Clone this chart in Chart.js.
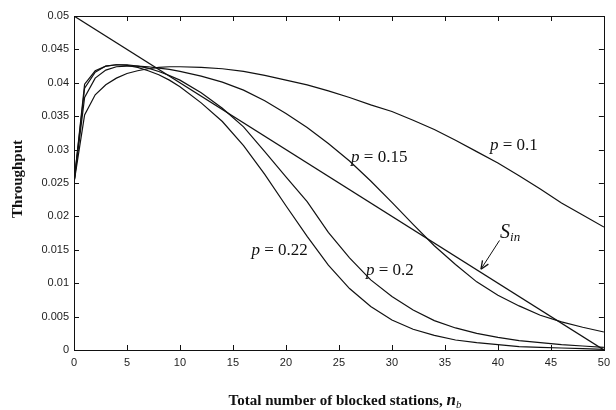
<!DOCTYPE html>
<html>
<head>
<meta charset="utf-8">
<script src="https://cdn.jsdelivr.net/npm/chart.js@4.4.1/dist/chart.umd.min.js"></script>
<style>
  html, body { margin: 0; padding: 0; background: #fff; }
  canvas { display: block; }
</style>
</head>
<body>
<canvas id="chart" width="616" height="410" style="width:616px;height:410px"></canvas>
<script>
// number of blocked stations (x values shared by the p curves)
const nb = [0, 1, 2, 3, 4, 5, 6, 7, 8, 9, 10, 12, 14, 16, 18, 20, 22, 24, 26, 28, 30,
  32, 34, 36, 38, 40, 42, 44, 46, 48, 50];

// throughput for each p
const p010 = [0.025, 0.0352, 0.0382, 0.0397, 0.0407, 0.0414, 0.0418, 0.0421, 0.0423, 0.0424, 0.0424,
  0.0423, 0.0421, 0.0417, 0.0411, 0.0404, 0.0397, 0.0388, 0.0378, 0.0367, 0.0357,
  0.0344, 0.0330, 0.0314, 0.0297, 0.0280, 0.0261, 0.0241, 0.0220, 0.0202, 0.0184];
const p015 = [0.025, 0.0378, 0.0407, 0.0419, 0.0424, 0.0425, 0.0425, 0.0424, 0.0422, 0.0420, 0.0417,
  0.0410, 0.0401, 0.0389, 0.0373, 0.0354, 0.0333, 0.0309, 0.0283, 0.0253, 0.0221,
  0.0188, 0.0156, 0.0128, 0.0102, 0.0082, 0.0066, 0.0052, 0.0042, 0.0034, 0.0027];
const p020 = [0.025, 0.0392, 0.0416, 0.0425, 0.0427, 0.0427, 0.0425, 0.0422, 0.0417, 0.0411, 0.0404,
  0.0385, 0.0362, 0.0334, 0.0297, 0.0259, 0.0222, 0.0176, 0.0138, 0.0105, 0.0080,
  0.0060, 0.0044, 0.0033, 0.0025, 0.0019, 0.0014, 0.0011, 0.0008, 0.0006, 0.0004];
const p022 = [0.025, 0.0398, 0.0418, 0.0425, 0.0427, 0.0426, 0.0423, 0.0418, 0.0412, 0.0404, 0.0394,
  0.0370, 0.0342, 0.0306, 0.0263, 0.0216, 0.0170, 0.0127, 0.0092, 0.0065, 0.0045,
  0.0031, 0.0022, 0.0015, 0.0011, 0.0008, 0.0005, 0.0004, 0.0003, 0.0002, 0.0001];

// S_in straight line
const sinX = [0, 50];
const sinY = [0.05, 0];

// curve labels, anchored in data units (x centre, baseline)
const curveLabels = [
  { p: '0.1', x: 41.5, y: 0.0299 },
  { p: '0.15', x: 28.8, y: 0.0281 },
  { p: '0.2', x: 29.8, y: 0.0112 },
  { p: '0.22', x: 19.4, y: 0.0142 }
];

const toPoints = (xs, ys) => xs.map((x, i) => ({ x: x, y: ys[i] }));

const lineStyle = {
  borderColor: '#111',
  borderWidth: 1.2,
  pointRadius: 0,
  tension: 0,
  fill: false
};

const serif = '"Liberation Serif", "DejaVu Serif", serif';

// draws runs of text with mixed fonts, centred on cx
function drawRuns(ctx, runs, cx, baseY, align) {
  let total = 0;
  runs.forEach(r => { ctx.font = r.font; r.w = ctx.measureText(r.text).width; total += r.w; });
  let x = align === 'left' ? cx : cx - total / 2;
  runs.forEach(r => {
    ctx.font = r.font;
    ctx.fillText(r.text, x, baseY + (r.dy || 0));
    x += r.w;
  });
}

const framePlugin = {
  id: 'frame',
  afterDraw(chart) {
    const { ctx, chartArea: a, scales: { x, y } } = chart;
    ctx.save();
    ctx.strokeStyle = '#111';
    ctx.lineWidth = 1;
    ctx.strokeRect(Math.round(a.left) + 0.5, Math.round(a.top) + 0.5,
      Math.round(a.right - a.left), Math.round(a.bottom - a.top));

    // inward ticks on all four sides
    ctx.beginPath();
    x.ticks.forEach(t => {
      const px = Math.round(x.getPixelForValue(t.value)) + 0.5;
      ctx.moveTo(px, a.bottom); ctx.lineTo(px, a.bottom - 5);
      ctx.moveTo(px, a.top); ctx.lineTo(px, a.top + 5);
    });
    y.ticks.forEach(t => {
      const py = Math.round(y.getPixelForValue(t.value)) + 0.5;
      ctx.moveTo(a.left, py); ctx.lineTo(a.left + 5, py);
      ctx.moveTo(a.right, py); ctx.lineTo(a.right - 5, py);
    });
    ctx.stroke();

    ctx.fillStyle = '#111';
    ctx.textBaseline = 'alphabetic';

    // p = ... labels
    curveLabels.forEach(l => {
      drawRuns(ctx, [
        { text: 'p', font: 'italic 17px ' + serif },
        { text: ' = ' + l.p, font: '17px ' + serif }
      ], x.getPixelForValue(l.x), y.getPixelForValue(l.y));
    });

    // S_in label and arrow
    const sx = x.getPixelForValue(40.2), sy = y.getPixelForValue(0.0168);
    drawRuns(ctx, [
      { text: 'S', font: 'italic 20px ' + serif },
      { text: 'in', font: 'italic 13px ' + serif, dy: 3 }
    ], sx, sy, 'left');

    const ax0 = x.getPixelForValue(40.15), ay0 = y.getPixelForValue(0.0164);
    const ax1 = x.getPixelForValue(38.4), ay1 = y.getPixelForValue(0.0121);
    ctx.beginPath();
    ctx.moveTo(ax0, ay0); ctx.lineTo(ax1, ay1);
    ctx.stroke();
    const ang = Math.atan2(ay1 - ay0, ax1 - ax0);
    ctx.beginPath();
    ctx.moveTo(ax1, ay1);
    ctx.lineTo(ax1 - 9 * Math.cos(ang - 0.4), ay1 - 9 * Math.sin(ang - 0.4));
    ctx.moveTo(ax1, ay1);
    ctx.lineTo(ax1 - 9 * Math.cos(ang + 0.4), ay1 - 9 * Math.sin(ang + 0.4));
    ctx.lineWidth = 1.3;
    ctx.stroke();

    // axis titles
    ctx.save();
    ctx.translate(17, (a.top + a.bottom) / 2 - 4);
    ctx.rotate(-Math.PI / 2);
    drawRuns(ctx, [{ text: 'Throughput', font: 'bold 15px ' + serif }], 0, 5);
    ctx.restore();

    drawRuns(ctx, [
      { text: 'Total number of blocked stations, ', font: 'bold 15px ' + serif },
      { text: 'n', font: 'italic bold 17px ' + serif },
      { text: 'b', font: 'italic 11px ' + serif, dy: 3 }
    ], 345, 405);

    ctx.restore();
  }
};

new Chart(document.getElementById('chart'), {
  type: 'line',
  data: {
    datasets: [
      Object.assign({ label: 'S_in', data: toPoints(sinX, sinY) }, lineStyle),
      Object.assign({ label: 'p = 0.1', data: toPoints(nb, p010) }, lineStyle),
      Object.assign({ label: 'p = 0.15', data: toPoints(nb, p015) }, lineStyle),
      Object.assign({ label: 'p = 0.2', data: toPoints(nb, p020) }, lineStyle),
      Object.assign({ label: 'p = 0.22', data: toPoints(nb, p022) }, lineStyle)
    ]
  },
  options: {
    responsive: false,
    animation: false,
    devicePixelRatio: 1,
    layout: { padding: { left: 0, right: 9, top: 16, bottom: 0 } },
    plugins: {
      legend: { display: false },
      tooltip: { enabled: false }
    },
    scales: {
      x: {
        type: 'linear',
        min: 0,
        max: 50,
        border: { display: false },
        grid: { display: false, drawTicks: false },
        ticks: {
          stepSize: 5,
          padding: 6,
          color: '#222',
          font: { family: '"Liberation Sans", Arial, sans-serif', size: 11 },
          maxRotation: 0
        },
        afterFit: s => { s.height = 60; }
      },
      y: {
        type: 'linear',
        min: 0,
        max: 0.05,
        border: { display: false },
        grid: { display: false, drawTicks: false },
        ticks: {
          stepSize: 0.005,
          padding: 5,
          color: '#222',
          font: { family: '"Liberation Sans", Arial, sans-serif', size: 11 },
          callback: v => String(+v.toFixed(3))
        },
        afterFit: s => { s.width = 74; }
      }
    }
  },
  plugins: [framePlugin]
});
</script>
</body>
</html>
